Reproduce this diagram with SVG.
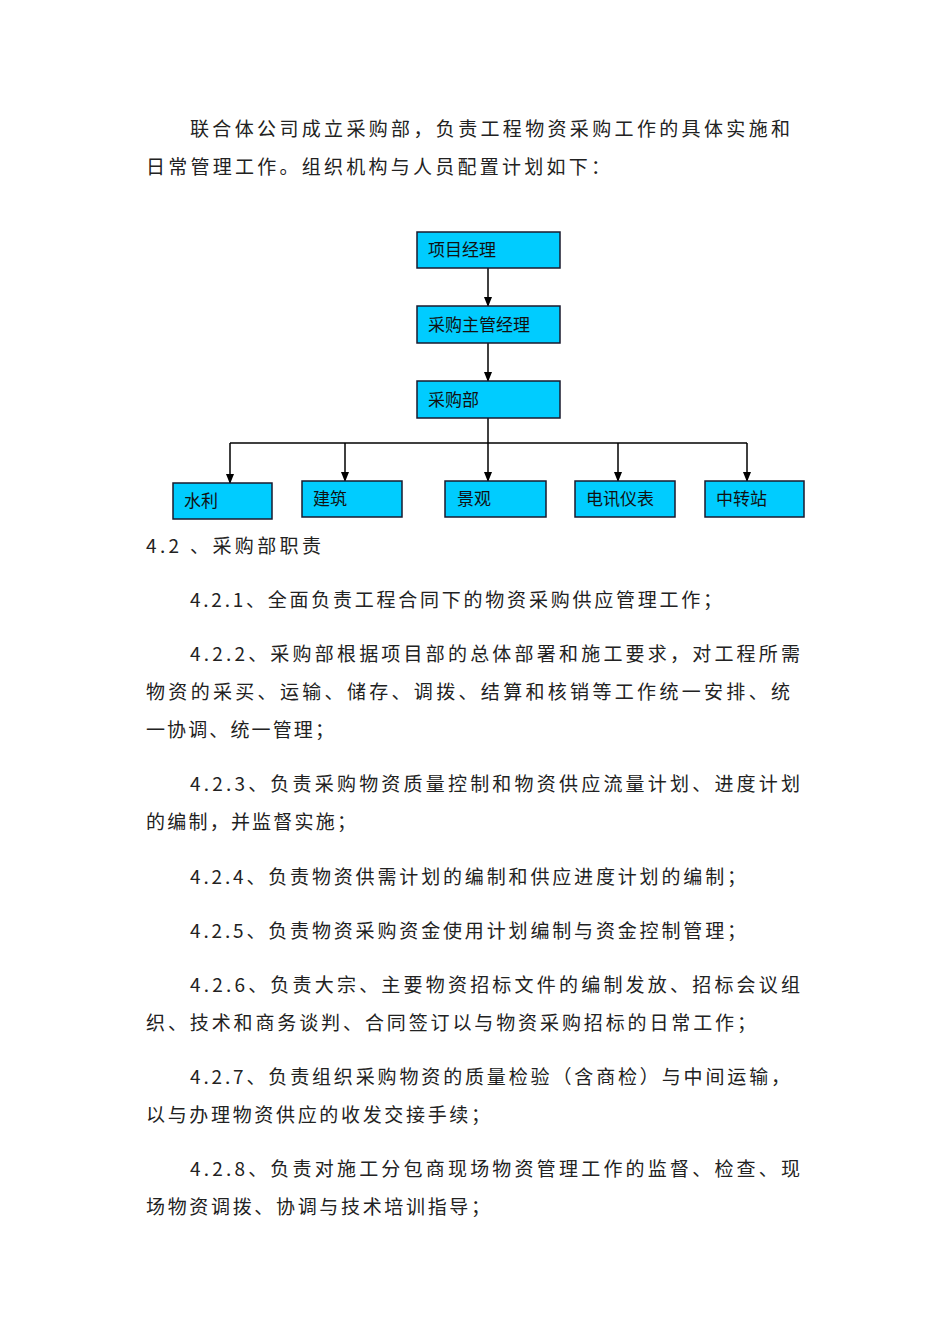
<svg xmlns="http://www.w3.org/2000/svg" width="950" height="1344" viewBox="0 0 950 1344">
<style>
.t{font-family:"Noto Sans CJK SC","Liberation Sans",sans-serif;font-size:19px;fill:#222;}
.b{fill:#00ccff;stroke:#1a1a2e;stroke-width:1.5;}
.l{font-family:"Noto Sans CJK SC","Liberation Sans",sans-serif;font-size:17px;fill:#111;}
.c{stroke:#000;stroke-width:1.5;fill:none;}
</style>
<defs><marker id="a" markerWidth="10" markerHeight="10" refX="9" refY="5" orient="auto" markerUnits="userSpaceOnUse"><path d="M0,1 L10,5 L0,9 Z" fill="#000"/></marker></defs>
<rect width="950" height="1344" fill="#fff"/>
<g id="text">
<text class="t" x="190" y="136" textLength="600" lengthAdjust="spacing">联合体公司成立采购部，负责工程物资采购工作的具体实施和</text>
<text class="t" x="146" y="174" textLength="464" lengthAdjust="spacing">日常管理工作。组织机构与人员配置计划如下：</text>
<text class="t" x="146" y="553" textLength="175" lengthAdjust="spacing">4.2 、采购部职责</text>
<text class="t" x="190" y="607" textLength="532" lengthAdjust="spacing">4.2.1、全面负责工程合同下的物资采购供应管理工作；</text>
<text class="t" x="190" y="661" textLength="610" lengthAdjust="spacing">4.2.2、采购部根据项目部的总体部署和施工要求，对工程所需</text>
<text class="t" x="146" y="699" textLength="644" lengthAdjust="spacing">物资的采买、运输、储存、调拨、结算和核销等工作统一安排、统</text>
<text class="t" x="146" y="737" textLength="188" lengthAdjust="spacing">一协调、统一管理；</text>
<text class="t" x="190" y="791" textLength="610" lengthAdjust="spacing">4.2.3、负责采购物资质量控制和物资供应流量计划、进度计划</text>
<text class="t" x="146" y="829" textLength="210" lengthAdjust="spacing">的编制，并监督实施；</text>
<text class="t" x="190" y="884" textLength="556" lengthAdjust="spacing">4.2.4、负责物资供需计划的编制和供应进度计划的编制；</text>
<text class="t" x="190" y="938" textLength="556" lengthAdjust="spacing">4.2.5、负责物资采购资金使用计划编制与资金控制管理；</text>
<text class="t" x="190" y="992" textLength="610" lengthAdjust="spacing">4.2.6、负责大宗、主要物资招标文件的编制发放、招标会议组</text>
<text class="t" x="146" y="1030" textLength="610" lengthAdjust="spacing">织、技术和商务谈判、合同签订以与物资采购招标的日常工作；</text>
<text class="t" x="190" y="1084" textLength="600" lengthAdjust="spacing">4.2.7、负责组织采购物资的质量检验（含商检）与中间运输，</text>
<text class="t" x="146" y="1122" textLength="344" lengthAdjust="spacing">以与办理物资供应的收发交接手续；</text>
<text class="t" x="190" y="1176" textLength="610" lengthAdjust="spacing">4.2.8、负责对施工分包商现场物资管理工作的监督、检查、现</text>
<text class="t" x="146" y="1214" textLength="344" lengthAdjust="spacing">场物资调拨、协调与技术培训指导；</text>
</g>
<g id="connectors">
<line class="c" x1="488" y1="268" x2="488" y2="306" marker-end="url(#a)"/>
<line class="c" x1="488" y1="343" x2="488" y2="381" marker-end="url(#a)"/>
<line class="c" x1="488" y1="418" x2="488" y2="481" marker-end="url(#a)"/>
<line class="c" x1="230" y1="443" x2="747" y2="443"/>
<line class="c" x1="230" y1="443" x2="230" y2="483" marker-end="url(#a)"/>
<line class="c" x1="345" y1="443" x2="345" y2="481" marker-end="url(#a)"/>
<line class="c" x1="618" y1="443" x2="618" y2="481" marker-end="url(#a)"/>
<line class="c" x1="747" y1="443" x2="747" y2="481" marker-end="url(#a)"/>
</g>
<g id="n1"><rect class="b" x="417" y="232" width="143" height="36"/><text class="l" x="428" y="256">项目经理</text></g>
<g id="n2"><rect class="b" x="417" y="306" width="143" height="37"/><text class="l" x="428" y="331">采购主管经理</text></g>
<g id="n3"><rect class="b" x="417" y="381" width="143" height="37"/><text class="l" x="428" y="406">采购部</text></g>
<g id="n4"><rect class="b" x="173" y="483" width="99" height="36"/><text class="l" x="184" y="507">水利</text></g>
<g id="n5"><rect class="b" x="302" y="481" width="100" height="36"/><text class="l" x="313" y="505">建筑</text></g>
<g id="n6"><rect class="b" x="445" y="481" width="101" height="36"/><text class="l" x="457" y="505">景观</text></g>
<g id="n7"><rect class="b" x="575" y="481" width="100" height="36"/><text class="l" x="586" y="505">电讯仪表</text></g>
<g id="n8"><rect class="b" x="705" y="481" width="99" height="36"/><text class="l" x="716" y="505">中转站</text></g>
</svg>
